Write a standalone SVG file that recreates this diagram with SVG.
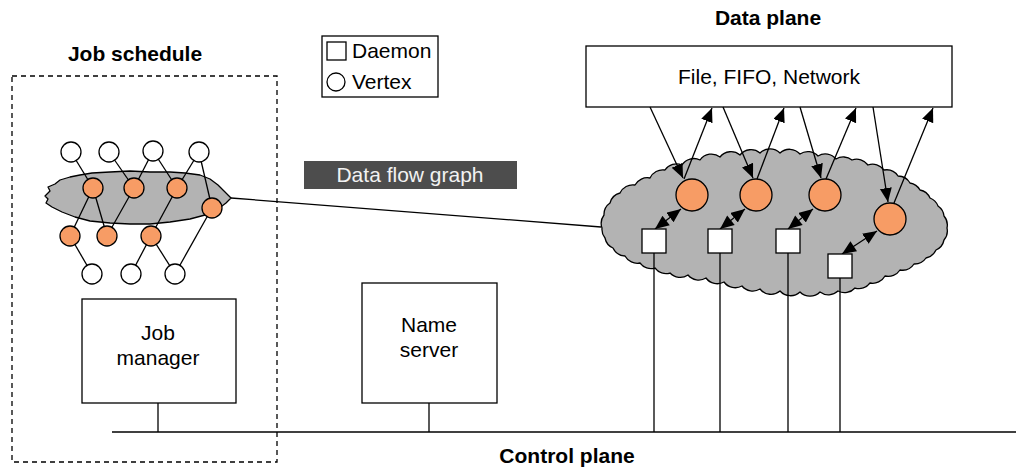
<svg xmlns="http://www.w3.org/2000/svg" width="1018" height="468" viewBox="0 0 1018 468">
<style>
.ln{stroke:#000;stroke-width:1.3;fill:none}
.box{fill:#fff;stroke:#000;stroke-width:1.3}
.t{font-family:"Liberation Sans",Arial,sans-serif;font-size:21px;fill:#000}
.b{font-weight:bold}
.vw{fill:#fff;stroke:#000;stroke-width:1.3}
.vo{fill:#f79c65;stroke:#000;stroke-width:1.3}
.cloud{fill:#b3b3b3;stroke:#000;stroke-width:1.3;stroke-linejoin:round}
.arr{stroke:#000;stroke-width:1.3;fill:none;marker-end:url(#ah)}
.darr{stroke:#000;stroke-width:1.3;fill:none;marker-end:url(#ah);marker-start:url(#ahs)}
</style>
<defs>
<marker id="ah" markerUnits="userSpaceOnUse" markerWidth="15" markerHeight="13" refX="14" refY="6" orient="auto"><path d="M0,0 L14,6 L0,12 Z" fill="#000"/></marker>
<marker id="ahs" markerUnits="userSpaceOnUse" markerWidth="15" markerHeight="13" refX="0" refY="6" orient="auto"><path d="M14,0 L0,6 L14,12 Z" fill="#000"/></marker>
</defs>
<rect width="1018" height="468" fill="#fff"/>

<g id="job-schedule">
<rect x="12" y="76" width="265" height="386" fill="none" stroke="#000" stroke-width="1.3" stroke-dasharray="5,4"/>
<text class="t b" x="135" y="61" text-anchor="middle">Job schedule</text>
</g>

<g id="legend">
<rect class="box" x="322" y="36" width="116" height="61"/>
<rect class="box" x="327" y="42" width="19" height="18"/>
<text class="t" x="352" y="58">Daemon</text>
<circle class="vw" cx="336" cy="82" r="9"/>
<text class="t" x="352" y="89">Vertex</text>
</g>

<g id="dfg-label">
<rect x="304" y="161" width="213" height="28" fill="#4d4d4d"/>
<text class="t" x="410" y="182" text-anchor="middle" style="fill:#f2f2f2">Data flow graph</text>
</g>

<g id="data-plane">
<text class="t b" x="768" y="25" text-anchor="middle">Data plane</text>
<rect class="box" x="586" y="46" width="366" height="61"/>
<text class="t" x="769" y="84" text-anchor="middle">File, FIFO, Network</text>
</g>

<g id="job-manager">
<rect class="box" x="82" y="299" width="154" height="104"/>
<text class="t" x="158" y="340" text-anchor="middle">Job</text>
<text class="t" x="158" y="365" text-anchor="middle">manager</text>
</g>

<g id="name-server">
<rect class="box" x="362" y="283" width="135" height="120"/>
<text class="t" x="429" y="332" text-anchor="middle">Name</text>
<text class="t" x="429" y="357" text-anchor="middle">server</text>
</g>

<g id="control-plane">
<line class="ln" x1="112" y1="432" x2="1016" y2="432"/>
<text class="t b" x="567" y="463" text-anchor="middle">Control plane</text>
</g>

<g id="cloud-left">
<path class="cloud" d="M45,196 L50,191 L48,187 L55,184 L60,180 L70,177 L80,175 L92,173 L110,172 L130,171 L150,172 L170,172 L185,173 L200,175 L210,179 L218,185 L224,191 L231,198 L226,203 L218,209 L205,215 L190,219 L170,222 L150,224 L130,224 L110,223 L90,221 L75,217 L62,212 L52,207 L46,203 L48,199 Z"/>
</g>

<g id="cloud-right">
<path class="cloud" d="M602,228 A14,14 0 0 1 604,215 A14,14 0 0 1 610,203 A14,14 0 0 1 620,193 A14,14 0 0 1 635,185 A14,14 0 0 1 650,178 A14,14 0 0 1 665,170 A14,14 0 0 1 682,165 A14,14 0 0 1 700,160 A14,14 0 0 1 720,157 A14,14 0 0 1 740,155 A14,14 0 0 1 760,153 A14,14 0 0 1 780,153 A14,14 0 0 1 800,154 A14,14 0 0 1 818,156 A14,14 0 0 1 836,159 A14,14 0 0 1 852,160 A14,14 0 0 1 868,165 A14,14 0 0 1 884,170 A14,14 0 0 1 898,176 A14,14 0 0 1 910,183 A14,14 0 0 1 920,190 A14,14 0 0 1 930,198 A14,14 0 0 1 938,206 A14,14 0 0 1 944,216 A14,14 0 0 1 947,228 A14,14 0 0 1 944,240 A14,14 0 0 1 936,250 A14,14 0 0 1 926,258 A14,14 0 0 1 914,264 A14,14 0 0 1 900,270 A14,14 0 0 1 885,276 A14,14 0 0 1 870,283 A14,14 0 0 1 855,288 A14,14 0 0 1 838,291 A14,14 0 0 1 820,292 A14,14 0 0 1 800,292 A14,14 0 0 1 780,291 A14,14 0 0 1 760,289 A14,14 0 0 1 742,286 A14,14 0 0 1 724,282 A14,14 0 0 1 706,278 A14,14 0 0 1 688,275 A14,14 0 0 1 670,273 A14,14 0 0 1 655,268 A14,14 0 0 1 640,263 A14,14 0 0 1 625,256 A14,14 0 0 1 613,248 A14,14 0 0 1 605,238 A14,14 0 0 1 602,228 Z"/>
</g>

<g id="connectors">
<line class="ln" x1="231" y1="198" x2="601" y2="227"/>
<line class="ln" x1="158" y1="403" x2="158" y2="432"/>
<line class="ln" x1="429" y1="403" x2="429" y2="432"/>
<line class="ln" x1="654" y1="253" x2="654" y2="432"/>
<line class="ln" x1="720" y1="253" x2="720" y2="432"/>
<line class="ln" x1="788" y1="253" x2="788" y2="432"/>
<line class="ln" x1="840" y1="278" x2="840" y2="432"/>
<line class="ln" x1="71" y1="152" x2="93" y2="188"/>
<line class="ln" x1="109" y1="152" x2="134" y2="188"/>
<line class="ln" x1="153" y1="151" x2="134" y2="188"/>
<line class="ln" x1="153" y1="151" x2="177" y2="188"/>
<line class="ln" x1="199" y1="152" x2="177" y2="188"/>
<line class="ln" x1="199" y1="152" x2="212" y2="208"/>
<line class="ln" x1="93" y1="188" x2="70" y2="236"/>
<line class="ln" x1="93" y1="188" x2="107" y2="236"/>
<line class="ln" x1="134" y1="188" x2="107" y2="236"/>
<line class="ln" x1="177" y1="188" x2="151" y2="236"/>
<line class="ln" x1="212" y1="208" x2="175" y2="274"/>
<line class="ln" x1="70" y1="236" x2="92" y2="274"/>
<line class="ln" x1="151" y1="236" x2="131" y2="274"/>
<line class="ln" x1="151" y1="236" x2="175" y2="274"/>
<line class="arr" x1="650" y1="107" x2="683" y2="178"/>
<line class="arr" x1="684" y1="179" x2="712" y2="108"/>
<line class="arr" x1="723" y1="107" x2="753" y2="178"/>
<line class="arr" x1="757" y1="179" x2="784" y2="108"/>
<line class="arr" x1="800" y1="107" x2="821" y2="178"/>
<line class="arr" x1="826" y1="179" x2="856" y2="108"/>
<line class="arr" x1="873" y1="107" x2="888" y2="202"/>
<line class="arr" x1="894" y1="203" x2="933" y2="108"/>
<line class="darr" x1="655" y1="229" x2="681" y2="209"/>
<line class="darr" x1="720" y1="229" x2="745" y2="209"/>
<line class="darr" x1="788" y1="229" x2="813" y2="209"/>
<line class="darr" x1="842" y1="254" x2="877" y2="231"/>
</g>

<g id="vertices-left">
<circle class="vw" cx="71" cy="152" r="10"/>
<circle class="vw" cx="109" cy="152" r="10"/>
<circle class="vw" cx="153" cy="151" r="10"/>
<circle class="vw" cx="199" cy="152" r="10"/>
<circle class="vo" cx="93" cy="188" r="10"/>
<circle class="vo" cx="134" cy="188" r="10"/>
<circle class="vo" cx="177" cy="188" r="10"/>
<circle class="vo" cx="212" cy="208" r="10"/>
<circle class="vo" cx="70" cy="236" r="10"/>
<circle class="vo" cx="107" cy="236" r="10"/>
<circle class="vo" cx="151" cy="236" r="10"/>
<circle class="vw" cx="92" cy="274" r="10"/>
<circle class="vw" cx="131" cy="274" r="10"/>
<circle class="vw" cx="175" cy="274" r="10"/>
</g>

<g id="vertices-right">
<circle class="vo" cx="692" cy="195" r="16"/>
<circle class="vo" cx="756" cy="195" r="16"/>
<circle class="vo" cx="825" cy="195" r="16"/>
<circle class="vo" cx="890" cy="219" r="16"/>
</g>

<g id="daemons">
<rect class="box" x="642" y="229" width="24" height="24"/>
<rect class="box" x="708" y="229" width="24" height="24"/>
<rect class="box" x="776" y="229" width="24" height="24"/>
<rect class="box" x="828" y="254" width="24" height="24"/>
</g>
</svg>
